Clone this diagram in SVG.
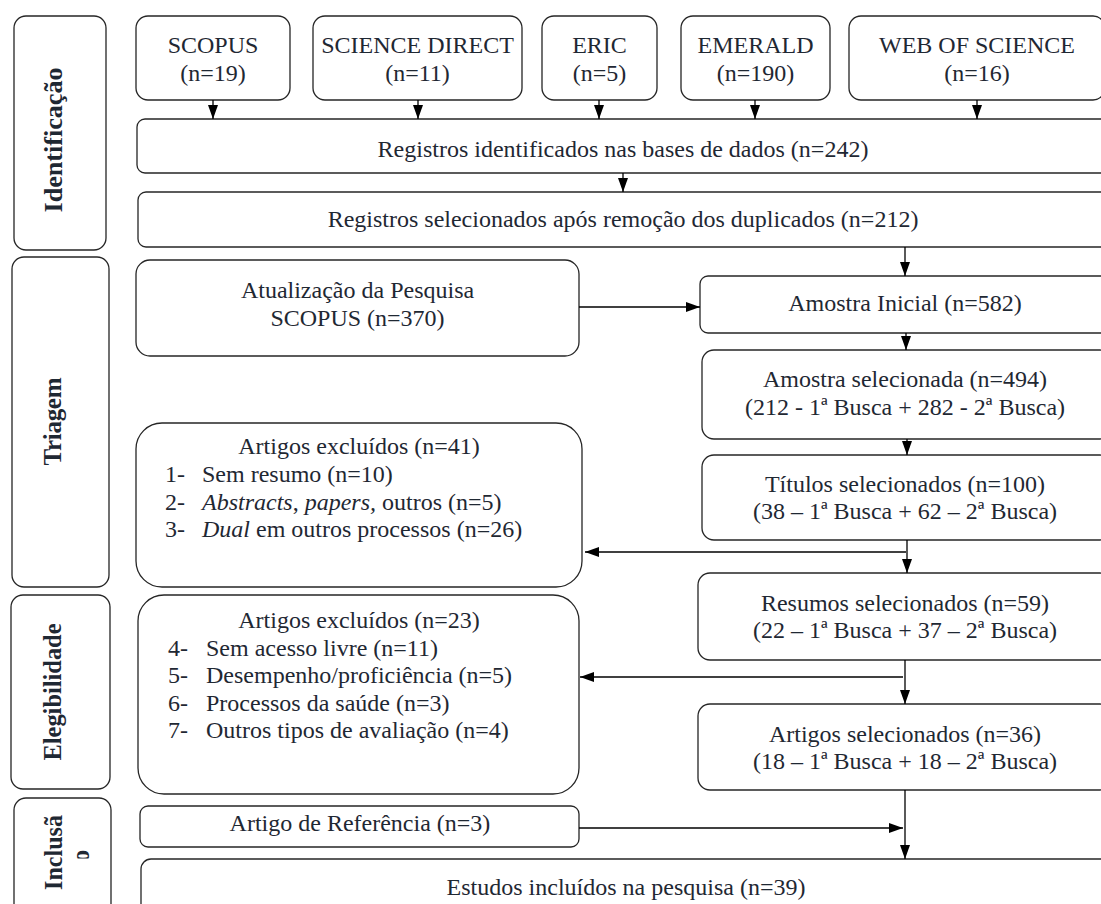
<svg xmlns="http://www.w3.org/2000/svg" width="1101" height="904" viewBox="0 0 1101 904">
  <defs>
    <style>
      .box { fill: #ffffff; stroke: #262626; stroke-width: 1.3; }
      .t { font-family: "Liberation Serif", "Times New Roman", serif; font-size: 24px; fill: #1f2833; }
      .c { text-anchor: middle; }
      .i { font-style: italic; }
      .phase { font-family: "Liberation Serif", "Times New Roman", serif; font-size: 25px; font-weight: bold; fill: #1f2833; text-anchor: middle; }
      .wire { fill: none; stroke: #000000; stroke-width: 1.3; }
    </style>
    <marker id="arrow" viewBox="0 0 14 10" refX="14" refY="5" markerWidth="14" markerHeight="10" markerUnits="userSpaceOnUse" orient="auto">
      <path d="M0,0 L14,5 L0,10 z" fill="#000000"/>
    </marker>
    <clipPath id="clipO">
      <rect x="60" y="800" width="40" height="58.5"/>
    </clipPath>
  </defs>

  <rect width="1101" height="904" fill="#ffffff"/>

  <!-- phase column -->
  <g id="phase-identificacao">
    <rect class="box" x="14" y="16" width="92" height="234" rx="12"/>
    <text class="phase" transform="translate(62,140) rotate(-90)" textLength="145" lengthAdjust="spacingAndGlyphs">Identificação</text>
  </g>
  <g id="phase-triagem">
    <rect class="box" x="12" y="257" width="97" height="330" rx="12"/>
    <text class="phase" transform="translate(61,421.5) rotate(-90)" textLength="88" lengthAdjust="spacing">Triagem</text>
  </g>
  <g id="phase-elegibilidade">
    <rect class="box" x="11" y="595" width="99" height="194" rx="12"/>
    <text class="phase" transform="translate(61,692) rotate(-90)" textLength="137" lengthAdjust="spacingAndGlyphs">Elegibilidade</text>
  </g>
  <g id="phase-inclusao">
    <rect class="box" x="14" y="798" width="97" height="130" rx="12"/>
    <text class="phase" transform="translate(62,852.5) rotate(-90)" textLength="75" lengthAdjust="spacingAndGlyphs">Inclusã</text>
    <g clip-path="url(#clipO)">
      <text class="phase" transform="translate(89,856) rotate(-90)">o</text>
    </g>
  </g>

  <!-- database sources -->
  <g id="src-scopus">
    <rect class="box" x="136" y="16" width="154" height="84" rx="12"/>
    <text class="t c" x="213" y="53">SCOPUS</text>
    <text class="t c" x="213" y="81">(n=19)</text>
  </g>
  <g id="src-sciencedirect">
    <rect class="box" x="313" y="16" width="209" height="84" rx="12"/>
    <text class="t c" x="417.5" y="53">SCIENCE DIRECT</text>
    <text class="t c" x="417.5" y="81">(n=11)</text>
  </g>
  <g id="src-eric">
    <rect class="box" x="542" y="16" width="115" height="84" rx="12"/>
    <text class="t c" x="599.5" y="53">ERIC</text>
    <text class="t c" x="599.5" y="81">(n=5)</text>
  </g>
  <g id="src-emerald">
    <rect class="box" x="681" y="16" width="149" height="84" rx="12"/>
    <text class="t c" x="755.5" y="53">EMERALD</text>
    <text class="t c" x="755.5" y="81">(n=190)</text>
  </g>
  <g id="src-wos">
    <rect class="box" x="849" y="16" width="256" height="84" rx="12"/>
    <text class="t c" x="977" y="53">WEB OF SCIENCE</text>
    <text class="t c" x="977" y="81">(n=16)</text>
  </g>

  <!-- identification -->
  <g id="registros-identificados">
    <rect class="box" x="137" y="119" width="975" height="54" rx="8"/>
    <text class="t c" x="623" y="157">Registros identificados nas bases de dados (n=242)</text>
  </g>
  <g id="registros-selecionados">
    <rect class="box" x="138" y="192" width="975" height="55" rx="8"/>
    <text class="t c" x="623" y="227">Registros selecionados após remoção dos duplicados (n=212)</text>
  </g>

  <!-- screening -->
  <g id="atualizacao">
    <rect class="box" x="136" y="260" width="443" height="96" rx="14"/>
    <text class="t c" x="357.5" y="298">Atualização da Pesquisa</text>
    <text class="t c" x="357.5" y="326">SCOPUS (n=370)</text>
  </g>
  <g id="amostra-inicial">
    <rect class="box" x="700" y="276" width="412" height="57" rx="8"/>
    <text class="t c" x="905" y="311">Amostra Inicial (n=582)</text>
  </g>
  <g id="amostra-selecionada">
    <rect class="box" x="702" y="350" width="410" height="89" rx="12"/>
    <text class="t c" x="905" y="387">Amostra selecionada (n=494)</text>
    <text class="t c" x="905" y="415">(212 - 1ª Busca + 282 - 2ª Busca)</text>
  </g>
  <g id="titulos-selecionados">
    <rect class="box" x="702" y="455" width="410" height="85" rx="12"/>
    <text class="t c" x="905" y="492">Títulos selecionados (n=100)</text>
    <text class="t c" x="905" y="519">(38 – 1ª Busca + 62 – 2ª Busca)</text>
  </g>
  <g id="excluidos-triagem">
    <rect class="box" x="136" y="423" width="446" height="164" rx="26"/>
    <text class="t c" x="359" y="454">Artigos excluídos (n=41)</text>
    <text class="t" x="165" y="482">1-</text>
    <text class="t" x="202" y="482">Sem resumo (n=10)</text>
    <text class="t" x="165" y="510">2-</text>
    <text class="t" x="202" y="510"><tspan class="i">Abstracts</tspan>, <tspan class="i">papers,</tspan> outros (n=5)</text>
    <text class="t" x="165" y="537">3-</text>
    <text class="t" x="202" y="537"><tspan class="i">Dual</tspan> em outros processos (n=26)</text>
  </g>

  <!-- eligibility -->
  <g id="resumos-selecionados">
    <rect class="box" x="698" y="573" width="414" height="87" rx="12"/>
    <text class="t c" x="905" y="611">Resumos selecionados (n=59)</text>
    <text class="t c" x="905" y="638">(22 – 1ª Busca + 37 – 2ª Busca)</text>
  </g>
  <g id="excluidos-elegibilidade">
    <rect class="box" x="138" y="595" width="441" height="199" rx="26"/>
    <text class="t c" x="359" y="628">Artigos excluídos (n=23)</text>
    <text class="t" x="168" y="656">4-</text>
    <text class="t" x="206" y="656">Sem acesso livre (n=11)</text>
    <text class="t" x="168" y="683">5-</text>
    <text class="t" x="206" y="683">Desempenho/proficiência (n=5)</text>
    <text class="t" x="168" y="711">6-</text>
    <text class="t" x="206" y="711">Processos da saúde (n=3)</text>
    <text class="t" x="168" y="738">7-</text>
    <text class="t" x="206" y="738">Outros tipos de avaliação (n=4)</text>
  </g>
  <g id="artigos-selecionados">
    <rect class="box" x="698" y="704" width="414" height="86" rx="12"/>
    <text class="t c" x="905" y="742">Artigos selecionados (n=36)</text>
    <text class="t c" x="905" y="769">(18 – 1ª Busca + 18 – 2ª Busca)</text>
  </g>

  <!-- inclusion -->
  <g id="artigo-referencia">
    <rect class="box" x="140" y="806" width="439" height="41" rx="8"/>
    <text class="t c" x="360" y="831">Artigo de Referência (n=3)</text>
  </g>
  <g id="estudos-incluidos">
    <rect class="box" x="141" y="859" width="972" height="60" rx="10"/>
    <text class="t c" x="626" y="895">Estudos incluídos na pesquisa (n=39)</text>
  </g>

  <!-- connectors -->
  <g id="connectors">
    <line class="wire" x1="213" y1="100" x2="213" y2="119" marker-end="url(#arrow)"/>
    <line class="wire" x1="418" y1="100" x2="418" y2="119" marker-end="url(#arrow)"/>
    <line class="wire" x1="599" y1="100" x2="599" y2="119" marker-end="url(#arrow)"/>
    <line class="wire" x1="755" y1="100" x2="755" y2="119" marker-end="url(#arrow)"/>
    <line class="wire" x1="977" y1="100" x2="977" y2="119" marker-end="url(#arrow)"/>
    <line class="wire" x1="623" y1="173" x2="623" y2="192" marker-end="url(#arrow)"/>
    <line class="wire" x1="905" y1="247" x2="905" y2="276" marker-end="url(#arrow)"/>
    <line class="wire" x1="579" y1="307" x2="700" y2="307" marker-end="url(#arrow)"/>
    <line class="wire" x1="906" y1="333" x2="906" y2="350" marker-end="url(#arrow)"/>
    <line class="wire" x1="907" y1="439" x2="907" y2="455" marker-end="url(#arrow)"/>
    <line class="wire" x1="907" y1="540" x2="907" y2="573" marker-end="url(#arrow)"/>
    <line class="wire" x1="906" y1="552" x2="585" y2="552" marker-end="url(#arrow)"/>
    <line class="wire" x1="905" y1="660" x2="905" y2="704" marker-end="url(#arrow)"/>
    <line class="wire" x1="903" y1="677" x2="580" y2="677" marker-end="url(#arrow)"/>
    <line class="wire" x1="905" y1="790" x2="905" y2="859" marker-end="url(#arrow)"/>
    <line class="wire" x1="579" y1="828" x2="903" y2="828" marker-end="url(#arrow)"/>
  </g>
</svg>
